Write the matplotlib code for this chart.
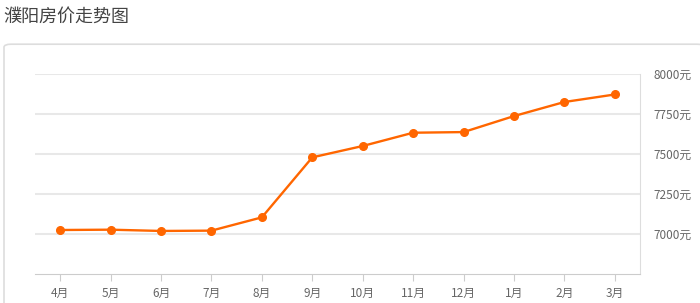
import matplotlib
matplotlib.use("Agg")
import matplotlib.pyplot as plt
from matplotlib.patches import FancyBboxPatch

plt.rcParams['font.family'] = ['Noto Sans CJK SC', 'DejaVu Sans']

# monthly average price (yuan / m2)
months = ["4月", "5月", "6月", "7月", "8月", "9月", "10月", "11月", "12月", "1月", "2月", "3月"]
prices = [7025, 7027, 7019, 7021, 7104, 7479, 7550, 7633, 7637, 7737, 7825, 7872]
y_ticks = [7000, 7250, 7500, 7750, 8000]
title = "濮阳房价走势图"

fig = plt.figure(figsize=(7, 3.03), dpi=100)

# card background with rounded border, kept behind the axes
card = FancyBboxPatch((4 / 700, -0.2), 1.0, (303 - 43) / 303 + 0.2 - 0.004,
                      boxstyle="round,pad=0,rounding_size=0.01",
                      transform=fig.transFigure, facecolor="white",
                      edgecolor="#dddddd", linewidth=1.2, zorder=-5)
fig.patches.append(card)

fig.text(3 / 700, 1 - 17 / 303, title, fontsize=13, color="#444444",
         va="center", ha="left")

ax = fig.add_axes([35 / 700, 1 - 274 / 303, (640 - 35) / 700, 200 / 303])
ax.set_facecolor("none")
x = list(range(len(months)))
ax.plot(x, prices, color="#ff6600", linewidth=1.7, marker="o", markersize=5.5,
        zorder=3)

ax.set_xlim(-0.5, len(months) - 0.5)
ax.set_ylim(6750, 8000)
ax.set_xticks(x)
ax.set_xticklabels(months, fontsize=8.5, color="#666666")
ax.set_yticks(y_ticks)
ax.set_yticklabels([f"{v}元" for v in y_ticks], fontsize=8.5, color="#666666")
ax.yaxis.tick_right()
ax.tick_params(axis="y", length=0, pad=10)
ax.tick_params(axis="x", length=5, color="#cccccc", pad=4)

for v in y_ticks:
    ax.axhline(v, color="#e8e8e8", linewidth=1.5, zorder=1)

for side in ["left", "top"]:
    ax.spines[side].set_visible(False)
ax.spines["bottom"].set_color("#cccccc")
ax.spines["right"].set_color("#dddddd")

fig.savefig("out.png", dpi=100)
